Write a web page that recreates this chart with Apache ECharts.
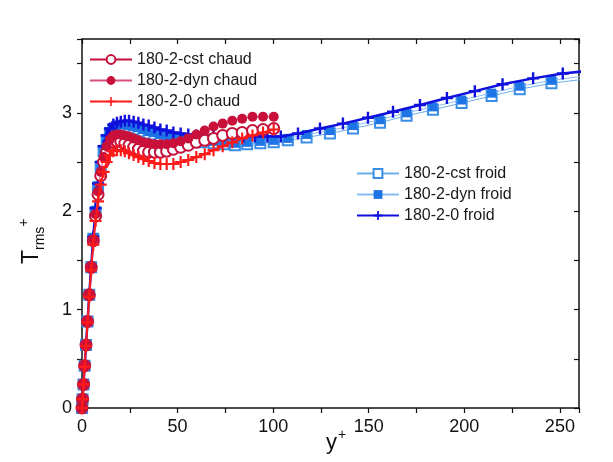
<!DOCTYPE html>
<html>
<head>
<meta charset="utf-8">
<script src="https://cdn.jsdelivr.net/npm/echarts@6/dist/echarts.min.js"></script>
<style>html,body{margin:0;padding:0;background:#fff;}#c{width:613px;height:462px;}</style>
</head>
<body>
<div id="c"></div>
<script>
// ---- data ----
const yChaud = [0, 0.3, 0.8, 1.4, 2.1, 2.9, 3.8, 4.8, 5.9, 7.1, 8.4, 9.8, 11.3, 12.9, 14.6, 16.4, 18.3, 20.3, 22.4, 24.6, 27.0, 29.5, 32.1, 34.9, 37.9, 41.0, 44.3, 47.8, 51.6, 55.6, 59.8, 64.2, 68.8, 73.6, 78.6, 83.8, 89.2, 94.7, 100.3];
const tCstChaud = [0, 0.09, 0.24, 0.43, 0.64, 0.88, 1.15, 1.43, 1.70, 1.95, 2.17, 2.36, 2.50, 2.60, 2.66, 2.70, 2.71, 2.71, 2.69, 2.67, 2.65, 2.63, 2.61, 2.60, 2.60, 2.60, 2.61, 2.63, 2.65, 2.67, 2.70, 2.72, 2.74, 2.77, 2.79, 2.80, 2.82, 2.83, 2.84];
const tDynChaud = [0, 0.09, 0.24, 0.43, 0.64, 0.88, 1.15, 1.43, 1.71, 1.97, 2.20, 2.40, 2.55, 2.66, 2.73, 2.77, 2.78, 2.78, 2.77, 2.76, 2.74, 2.72, 2.70, 2.69, 2.68, 2.68, 2.68, 2.69, 2.71, 2.74, 2.78, 2.82, 2.86, 2.89, 2.92, 2.94, 2.96, 2.96, 2.96];
const t0Chaud = [0, 0.09, 0.24, 0.42, 0.63, 0.87, 1.13, 1.40, 1.66, 1.90, 2.10, 2.27, 2.40, 2.50, 2.57, 2.61, 2.62, 2.62, 2.61, 2.59, 2.57, 2.55, 2.53, 2.51, 2.49, 2.48, 2.48, 2.48, 2.50, 2.52, 2.55, 2.58, 2.62, 2.66, 2.70, 2.74, 2.77, 2.80, 2.83];

const yFroidSq = [0, 0.3, 0.8, 1.4, 2.1, 2.9, 3.8, 4.8, 5.9, 7.1, 8.4, 9.8, 11.3, 12.9, 14.6, 16.4, 18.3, 20.3, 22.4, 24.6, 27.0, 29.5, 32.1, 34.9, 37.9, 41.0, 44.3, 47.8, 51.6, 55.6, 59.8, 64.2, 69.0, 74.2, 80.0, 86.4, 93.3, 100.3, 107.7, 117.5, 129.7, 141.8, 155.9, 169.8, 183.6, 198.6, 214.3, 229.0, 245.6, 262.0];
const tCstFroid = [0, 0.09, 0.24, 0.43, 0.64, 0.88, 1.15, 1.43, 1.72, 1.99, 2.24, 2.45, 2.61, 2.72, 2.79, 2.83, 2.85, 2.86, 2.86, 2.85, 2.84, 2.83, 2.81, 2.79, 2.78, 2.76, 2.75, 2.74, 2.73, 2.72, 2.71, 2.70, 2.69, 2.68, 2.67, 2.68, 2.69, 2.70, 2.72, 2.75, 2.79, 2.84, 2.90, 2.97, 3.03, 3.10, 3.17, 3.24, 3.30, 3.34];
const tDynFroid = [0, 0.09, 0.24, 0.43, 0.64, 0.88, 1.15, 1.44, 1.73, 2.01, 2.26, 2.47, 2.63, 2.74, 2.81, 2.85, 2.87, 2.88, 2.88, 2.87, 2.86, 2.85, 2.83, 2.81, 2.80, 2.78, 2.77, 2.76, 2.75, 2.74, 2.73, 2.72, 2.71, 2.70, 2.69, 2.70, 2.71, 2.72, 2.74, 2.78, 2.82, 2.87, 2.93, 3.00, 3.06, 3.13, 3.20, 3.27, 3.33, 3.37];

const yFroid0 = [0, 0.3, 0.8, 1.4, 2.1, 2.9, 3.8, 4.8, 5.9, 7.1, 8.4, 9.8, 11.3, 12.9, 14.6, 16.4, 18.3, 20.3, 22.4, 24.6, 27.0, 29.5, 32.1, 34.9, 37.9, 41.0, 44.3, 47.8, 51.6, 55.6, 59.8, 64.2, 68.8, 73.6, 78.8, 84.4, 90.5, 97.0, 104.0, 113.0, 124.5, 136.5, 149.6, 162.7, 176.8, 190.9, 205.5, 220.0, 236.0, 251.5, 267.0];
const t0Froid = [0, 0.09, 0.24, 0.43, 0.64, 0.88, 1.15, 1.44, 1.74, 2.03, 2.28, 2.50, 2.66, 2.77, 2.84, 2.88, 2.90, 2.91, 2.92, 2.92, 2.91, 2.90, 2.88, 2.87, 2.85, 2.83, 2.82, 2.80, 2.79, 2.78, 2.77, 2.77, 2.76, 2.76, 2.76, 2.76, 2.76, 2.76, 2.76, 2.79, 2.84, 2.89, 2.95, 3.01, 3.08, 3.15, 3.22, 3.29, 3.35, 3.40, 3.43];

const names = ['180-2-cst chaud', '180-2-dyn chaud', '180-2-0 chaud', '180-2-cst froid', '180-2-dyn froid', '180-2-0 froid'];
const xTicks = [0, 50, 100, 150, 200, 250];
const yTicks = [0, 1, 2, 3];

function pairs(xs, ys) { return xs.map((x, i) => [x, ys[i]]); }

const plusThin = 'path://M4.1,0H5.9V4.1H10V5.9H5.9V10H4.1V5.9H0V4.1H4.1Z';
const plusThick = 'path://M4,0H6V4H10V6H6V10H4V6H0V4H4Z';
const font = "'Liberation Sans', Arial, sans-serif";

const chart = echarts.init(document.getElementById('c'), null, {renderer: 'canvas'});
const axisCommon = {
  type: 'value',
  axisLine: {show: true, onZero: false, lineStyle: {color: '#111', width: 1.5}},
  splitLine: {show: false},
};
chart.setOption({
  animation: false,
  backgroundColor: '#ffffff',
  grid: {left: 82, top: 39, right: 34, bottom: 54, containLabel: false, outerBoundsMode: 'none'},
  xAxis: [
    Object.assign({}, axisCommon, {
      position: 'bottom', min: 0, max: 260, interval: 25,
      axisTick: {show: true, inside: false, length: 5, lineStyle: {color: '#111', width: 1.2}},
      axisLabel: {margin: 10, fontSize: 18, color: '#111', fontFamily: font,
        formatter: v => xTicks.indexOf(v) >= 0 ? String(v) : ''}
    }),
    Object.assign({}, axisCommon, {
      position: 'top', min: 0, max: 260, interval: 25,
      axisTick: {show: true, inside: true, length: 5, lineStyle: {color: '#111', width: 1.2}},
      axisLabel: {show: false}
    })
  ],
  yAxis: [
    Object.assign({}, axisCommon, {
      position: 'left', min: 0, max: 3.75, interval: 0.5,
      axisTick: {show: true, inside: false, length: 5, lineStyle: {color: '#111', width: 1.2}},
      axisLabel: {margin: 10, fontSize: 18, color: '#111', fontFamily: font,
        formatter: v => yTicks.indexOf(v) >= 0 ? String(v) : ''}
    }),
    Object.assign({}, axisCommon, {
      position: 'right', min: 0, max: 3.75, interval: 0.5,
      axisTick: {show: true, inside: true, length: 5, lineStyle: {color: '#111', width: 1.2}},
      axisLabel: {show: false}
    })
  ],
  legend: [
    {
      data: names.slice(0, 3), orient: 'vertical', left: 84, top: 46,
      itemWidth: 42, itemHeight: 11, itemGap: 4,
      textStyle: {fontSize: 16, fontFamily: font, color: '#1a1a1a', lineHeight: 17}
    },
    {
      data: names.slice(3), orient: 'vertical', left: 351, top: 160,
      itemWidth: 42, itemHeight: 11, itemGap: 4,
      textStyle: {fontSize: 16, fontFamily: font, color: '#1a1a1a', lineHeight: 17}
    }
  ],
  graphic: [
    {
      type: 'text', x: 17, y: 264, rotation: Math.PI / 2,
      style: {
        text: '{t|T}{s|rms}{p|+}',
        rich: {
          t: {fontSize: 23, fontFamily: font, fill: '#111', lineHeight: 30, verticalAlign: 'middle'},
          s: {fontSize: 14, fontFamily: font, fill: '#111', lineHeight: 30, verticalAlign: 'bottom', padding: [10, 0, 0, 0]},
          p: {fontSize: 14, fontFamily: font, fill: '#111', lineHeight: 30, verticalAlign: 'top', padding: [0, 0, 14, 0]}
        }
      }
    },
    {
      type: 'text', x: 326, y: 432,
      style: {text: 'y', fontSize: 22, fontFamily: font, fill: '#111', textVerticalAlign: 'top'}
    },
    {
      type: 'text', x: 338, y: 428,
      style: {text: '+', fontSize: 14, fontFamily: font, fill: '#111', textVerticalAlign: 'top'}
    }
  ],
  series: [
    {
      name: names[3], type: 'line', data: pairs(yFroidSq, tCstFroid),
      symbol: 'emptyRect', symbolSize: 10,
      itemStyle: {color: '#3a8ee6', borderWidth: 1.2},
      lineStyle: {color: '#6aaee8', width: 1}, z: 2
    },
    {
      name: names[4], type: 'line', data: pairs(yFroidSq, tDynFroid),
      symbol: 'rect', symbolSize: 9,
      itemStyle: {color: '#1c74e6'},
      lineStyle: {color: '#86bdf0', width: 1}, z: 3
    },
    {
      name: names[5], type: 'line', data: pairs(yFroid0, t0Froid),
      symbol: plusThick, symbolSize: 12,
      itemStyle: {color: '#1010dd'},
      lineStyle: {color: '#1010dd', width: 2.5}, z: 4
    },
    {
      name: names[0], type: 'line', data: pairs(yChaud, tCstChaud),
      symbol: 'emptyCircle', symbolSize: 11,
      itemStyle: {color: '#c4103a', borderWidth: 1.2},
      lineStyle: {color: '#c4103a', width: 1}, z: 5
    },
    {
      name: names[1], type: 'line', data: pairs(yChaud, tDynChaud),
      symbol: 'circle', symbolSize: 10,
      itemStyle: {color: '#c8103a'},
      lineStyle: {color: '#d8507a', width: 1}, z: 6
    },
    {
      name: names[2], type: 'line', data: pairs(yChaud, t0Chaud),
      symbol: plusThin, symbolSize: 12,
      itemStyle: {color: '#ff1a1a'},
      lineStyle: {color: '#ff1a1a', width: 2}, z: 7
    }
  ]
});
</script>
</body>
</html>
